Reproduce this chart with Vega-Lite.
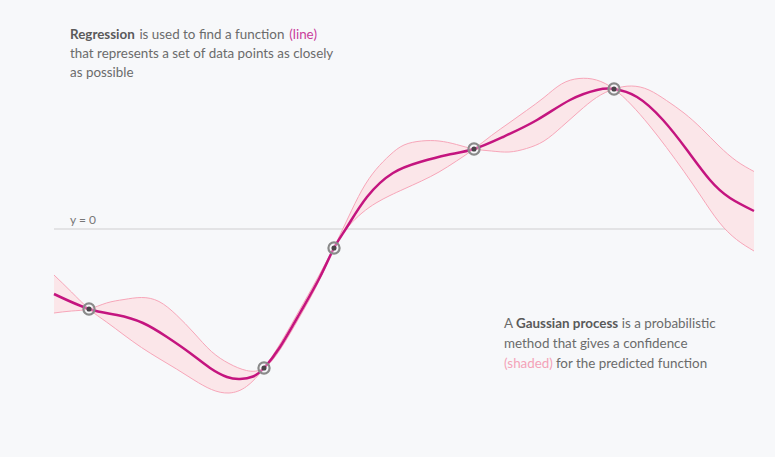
{
  "$schema": "https://vega.github.io/schema/vega-lite/v6.json",
  "width": 775,
  "height": 457,
  "autosize": {"type": "fit", "contains": "padding"},
  "padding": 0,
  "background": "#f7f8fa",
  "config": {
    "view": {"stroke": null},
    "axis": {"disable": true},
    "text": {"font": "Lato", "fontSize": 13.4, "baseline": "middle", "align": "left"}
  },
  "datasets": {
    "mean": [
      {"x": 0, "y": -1.30},
      {"x": 5, "y": -1.60},
      {"x": 9, "y": -1.72},
      {"x": 12.71, "y": -1.88},
      {"x": 16.14, "y": -2.16},
      {"x": 19.43, "y": -2.48},
      {"x": 22.29, "y": -2.78},
      {"x": 24.71, "y": -2.96},
      {"x": 26.57, "y": -3.00},
      {"x": 28.43, "y": -2.95},
      {"x": 30, "y": -2.78},
      {"x": 32.29, "y": -2.36},
      {"x": 35.14, "y": -1.68},
      {"x": 38, "y": -0.96},
      {"x": 40, "y": -0.38},
      {"x": 41.86, "y": 0.04},
      {"x": 44.71, "y": 0.64},
      {"x": 48.43, "y": 1.12},
      {"x": 52.29, "y": 1.34},
      {"x": 56.14, "y": 1.48},
      {"x": 60, "y": 1.60},
      {"x": 64.14, "y": 1.84},
      {"x": 69, "y": 2.18},
      {"x": 73.71, "y": 2.58},
      {"x": 77.57, "y": 2.78},
      {"x": 80, "y": 2.80},
      {"x": 83.29, "y": 2.64},
      {"x": 87, "y": 2.18},
      {"x": 90.43, "y": 1.58},
      {"x": 93.71, "y": 0.98},
      {"x": 96.57, "y": 0.62},
      {"x": 100, "y": 0.36}
    ],
    "band": [
      {"x": 0, "a": -0.92, "b": -1.68},
      {"x": 2.5, "a": -1.26, "b": -1.64},
      {"x": 5, "a": -1.60, "b": -1.60},
      {"x": 7.5, "a": -1.86, "b": -1.48},
      {"x": 10, "a": -2.12, "b": -1.41},
      {"x": 12.5, "a": -2.37, "b": -1.37},
      {"x": 15, "a": -2.59, "b": -1.45},
      {"x": 17.5, "a": -2.80, "b": -1.72},
      {"x": 20, "a": -3.02, "b": -2.08},
      {"x": 22.5, "a": -3.21, "b": -2.45},
      {"x": 25, "a": -3.28, "b": -2.69},
      {"x": 27.5, "a": -3.15, "b": -2.83},
      {"x": 30, "a": -2.78, "b": -2.78},
      {"x": 32.5, "a": -2.25, "b": -2.37},
      {"x": 35, "a": -1.64, "b": -1.78},
      {"x": 37.5, "a": -1.02, "b": -1.14},
      {"x": 40, "a": -0.38, "b": -0.38},
      {"x": 42, "a": 0.04, "b": 0.22},
      {"x": 44, "a": 0.32, "b": 0.78},
      {"x": 46, "a": 0.52, "b": 1.19},
      {"x": 48, "a": 0.67, "b": 1.48},
      {"x": 50, "a": 0.80, "b": 1.68},
      {"x": 52.5, "a": 0.96, "b": 1.76},
      {"x": 55, "a": 1.14, "b": 1.76},
      {"x": 57.5, "a": 1.36, "b": 1.69},
      {"x": 60, "a": 1.60, "b": 1.60},
      {"x": 62.5, "a": 1.87, "b": 1.56},
      {"x": 65, "a": 2.12, "b": 1.54},
      {"x": 67.5, "a": 2.37, "b": 1.61},
      {"x": 70, "a": 2.63, "b": 1.76},
      {"x": 72.5, "a": 2.90, "b": 2.04},
      {"x": 75, "a": 3.01, "b": 2.35},
      {"x": 77.5, "a": 2.98, "b": 2.63},
      {"x": 80, "a": 2.80, "b": 2.80},
      {"x": 82.5, "a": 2.48, "b": 2.86},
      {"x": 85, "a": 2.08, "b": 2.78},
      {"x": 87.5, "a": 1.63, "b": 2.57},
      {"x": 90, "a": 1.15, "b": 2.32},
      {"x": 92.5, "a": 0.64, "b": 2.01},
      {"x": 95, "a": 0.14, "b": 1.66},
      {"x": 97.5, "a": -0.21, "b": 1.36},
      {"x": 100, "a": -0.44, "b": 1.15}
    ],
    "observations": [
      {"x": 5, "y": -1.60},
      {"x": 30, "y": -2.78},
      {"x": 40, "y": -0.38},
      {"x": 60, "y": 1.60},
      {"x": 80, "y": 2.80}
    ]
  },
  "encoding": {
    "x": {"type": "quantitative", "scale": {"domain": [-7.714, 103], "nice": false, "zero": false}, "axis": null},
    "y": {"type": "quantitative", "scale": {"domain": [-4.56, 4.58], "nice": false, "zero": false}, "axis": null}
  },
  "layer": [
    {
      "data": {"values": [{"x": 0, "x2": 100, "y": 0}]},
      "mark": {"type": "rule", "stroke": "#dcdcde", "strokeWidth": 1.5},
      "encoding": {"x": {"field": "x", "type": "quantitative"}, "x2": {"field": "x2"}, "y": {"field": "y", "type": "quantitative"}}
    },
    {
      "data": {"values": [{"x": 2.3, "y": 0.19, "text": "y = 0"}]},
      "mark": {"type": "text", "fontSize": 12, "color": "#777777"},
      "encoding": {"x": {"field": "x", "type": "quantitative"}, "y": {"field": "y", "type": "quantitative"}, "text": {"field": "text"}}
    },
    {
      "data": {"name": "band"},
      "mark": {"type": "area", "interpolate": "natural", "fill": "#fbe6e9", "opacity": 1},
      "encoding": {"x": {"field": "x", "type": "quantitative"}, "y": {"field": "a", "type": "quantitative"}, "y2": {"field": "b"}}
    },
    {
      "data": {"name": "band"},
      "mark": {"type": "line", "interpolate": "natural", "stroke": "#f7a6b9", "strokeWidth": 1},
      "encoding": {"x": {"field": "x", "type": "quantitative"}, "y": {"field": "a", "type": "quantitative"}}
    },
    {
      "data": {"name": "band"},
      "mark": {"type": "line", "interpolate": "natural", "stroke": "#f7a6b9", "strokeWidth": 1},
      "encoding": {"x": {"field": "x", "type": "quantitative"}, "y": {"field": "b", "type": "quantitative"}}
    },
    {
      "data": {"name": "mean"},
      "mark": {"type": "line", "interpolate": "natural", "stroke": "#c4157f", "strokeWidth": 2.5},
      "encoding": {"x": {"field": "x", "type": "quantitative"}, "y": {"field": "y", "type": "quantitative"}}
    },
    {
      "data": {"name": "observations"},
      "mark": {"type": "point", "shape": "circle", "size": 125, "stroke": "#8a8a8a", "strokeWidth": 2.2, "fill": "#f7f8fa", "fillOpacity": 0.35, "opacity": 1},
      "encoding": {"x": {"field": "x", "type": "quantitative"}, "y": {"field": "y", "type": "quantitative"}}
    },
    {
      "data": {"name": "observations"},
      "mark": {"type": "point", "shape": "circle", "size": 26, "fill": "#4a4448", "filled": true, "opacity": 1},
      "encoding": {"x": {"field": "x", "type": "quantitative"}, "y": {"field": "y", "type": "quantitative"}}
    },
    {
      "data": {"values": [
        {"x": 2.286, "y": 3.88, "text": "Regression"},
        {"x": 66.0, "y": -1.90, "text": "Gaussian process"}
      ]},
      "mark": {"type": "text", "fontWeight": "bold", "color": "#5a5a5a"},
      "encoding": {"x": {"field": "x", "type": "quantitative"}, "y": {"field": "y", "type": "quantitative"}, "text": {"field": "text"}}
    },
    {
      "data": {"values": [
        {"x": 12.2, "y": 3.88, "text": "is used to find a function"},
        {"x": 2.286, "y": 3.50, "text": "that represents a set of data points as closely"},
        {"x": 2.286, "y": 3.12, "text": "as possible"},
        {"x": 64.286, "y": -1.90, "text": "A"},
        {"x": 81.1, "y": -1.90, "text": "is a probabilistic"},
        {"x": 64.286, "y": -2.30, "text": "method that gives a confidence"},
        {"x": 71.7, "y": -2.70, "text": "for the predicted function"}
      ]},
      "mark": {"type": "text", "color": "#6b6b6b"},
      "encoding": {"x": {"field": "x", "type": "quantitative"}, "y": {"field": "y", "type": "quantitative"}, "text": {"field": "text"}}
    },
    {
      "data": {"values": [{"x": 33.6, "y": 3.88, "text": "(line)"}]},
      "mark": {"type": "text", "color": "#c93c9a"},
      "encoding": {"x": {"field": "x", "type": "quantitative"}, "y": {"field": "y", "type": "quantitative"}, "text": {"field": "text"}}
    },
    {
      "data": {"values": [{"x": 64.286, "y": -2.70, "text": "(shaded)"}]},
      "mark": {"type": "text", "color": "#f4a3b8"},
      "encoding": {"x": {"field": "x", "type": "quantitative"}, "y": {"field": "y", "type": "quantitative"}, "text": {"field": "text"}}
    }
  ]
}
